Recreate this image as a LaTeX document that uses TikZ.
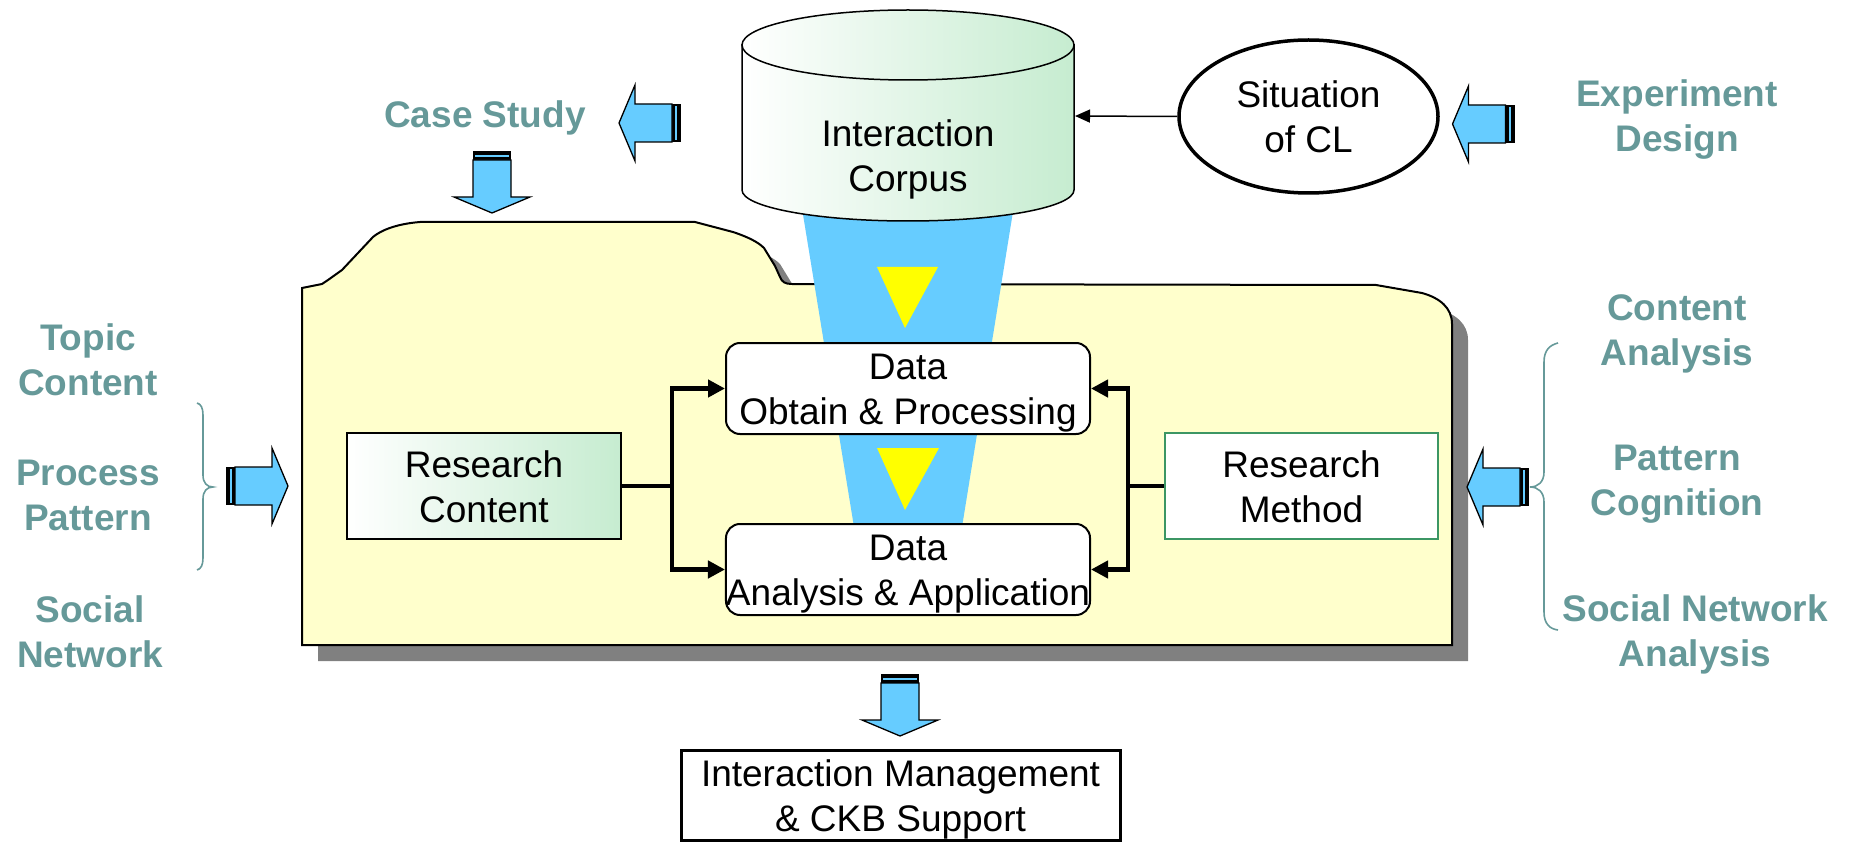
\documentclass[tikz,border=0pt]{standalone}
\usepackage{fontspec}
\setmainfont{Liberation Sans}
\usetikzlibrary{arrows.meta,shapes.geometric}
\definecolor{tealtxt}{RGB}{102,153,153}
\definecolor{foldery}{RGB}{255,255,204}
\definecolor{shadowgray}{RGB}{128,128,128}
\definecolor{arrblue}{RGB}{102,204,255}
\definecolor{triyellow}{RGB}{255,255,0}
\definecolor{cylgreen}{RGB}{198,236,208}
\definecolor{rmgreen}{RGB}{60,150,100}
\newcommand\twol[2]{\begin{tabular}[t]{@{}c@{}}#1\\#2\end{tabular}}
\newcommand\folderpath{(302,645) -- (302,288) -- (322,284) -- (328,280) -- (342,270) -- (373,237) .. controls (380,231) and (395,224) .. (420,222) -- (695,222) -- (733,232) .. controls (748,237) and (758,242) .. (764,248) -- (775,266) -- (780,277) .. controls (782,282) and (785,284) .. (792,284) -- (1376,285) -- (1422,293) .. controls (1440,298) and (1452,308) .. (1452,324) -- (1452,645) -- cycle}
\tikzset{
  txt/.style={font=\fontsize{37}{45}\selectfont, inner sep=0pt},
  lbl/.style={txt, font=\fontsize{37}{45}\selectfont\bfseries, text=tealtxt, anchor=base},
  tx2/.style={text height=31.5pt, text depth=49.5pt},
  rbox/.style={txt, tx2, draw=black, line width=2pt, fill=white, rounded corners=14pt, minimum width=364pt, minimum height=91pt},
  thk/.style={line width=4.5pt, line join=miter},
  tipx/.style={-{Triangle[length=17pt,width=17pt]}},
  brace/.style={draw=tealtxt, line width=1.6pt},
  blkarrow/.pic={
    \fill[black] (-62,-19) rectangle (-53,19);
    \fill[arrblue] (-58,-17) rectangle (-56,17);
    \draw[fill=arrblue, line width=1.3pt, line join=miter] (0,0) -- (-16,-38) -- (-16,-19) -- (-53,-19) -- (-53,19) -- (-16,19) -- (-16,38) -- cycle;
  }
}
\begin{document}
\begin{tikzpicture}[x=1pt,y=-1pt]
\useasboundingbox (0,0) rectangle (1852,842);
% folder with shadow
\fill[shadowgray, shift={(16,16)}] \folderpath;
\draw[fill=foldery, line width=2pt] \folderpath;
% funnel
\fill[arrblue] (799,190) -- (1016.5,190) -- (962,527) -- (854,527) -- cycle;
\fill[triyellow] (877,267) -- (938,267) -- (905,328) -- cycle;
\fill[triyellow] (877,448) -- (939,448) -- (905,510) -- cycle;
% cylinder
\shade[left color=white, right color=cylgreen, draw=black, line width=1.5pt] (742,45) -- (742,190) arc[start angle=180, end angle=360, x radius=166pt, y radius=31pt] -- (1074,45) -- cycle;
\shade[left color=white, right color=cylgreen, draw=black, line width=1.5pt] (908,45) ellipse [x radius=166pt, y radius=35pt];
\node[txt, anchor=base] (corpus) at (908,147) {\twol{Interaction}{Corpus}};
\coordinate (cylR) at (1075,116);
% situation
\node[txt, tx2, draw=black, line width=3.5pt, ellipse, minimum width=259pt, minimum height=153pt] (sit) at (1308.5,116.5) {\twol{Situation}{of CL}};
\draw[line width=1.5pt, -{Triangle[length=15pt,width=13pt]}] (sit.west) -- (cylR);
% labels
\node[lbl] (cs) at (485,128) {Case Study};
\node[lbl] (ed) at (1677,107) {\twol{Experiment}{Design}};
\node[lbl] (tc) at (88,350) {\twol{Topic}{Content}};
\node[lbl] (pp) at (88,485) {\twol{Process}{Pattern}};
\node[lbl] (sn) at (90,622) {\twol{Social}{Network}};
\node[lbl] (ca) at (1677,320) {\twol{Content}{Analysis}};
\node[lbl] (pc) at (1677,470) {\twol{Pattern}{Cognition}};
\node[lbl] (sna) at (1695,621) {\twol{Social Network}{Analysis}};
% braces
\draw[brace] (197,403) .. controls (201,404) and (203,408) .. (203,415) -- (203,475) .. controls (203,483) and (207,487) .. (213,487) .. controls (207,487) and (203,491) .. (203,499) -- (203,558) .. controls (203,565) and (201,569) .. (197,570);
\draw[brace] (1558,343) .. controls (1550,345) and (1544,350) .. (1544,362) -- (1544,472) .. controls (1544,482) and (1538,487) .. (1530,487) .. controls (1538,487) and (1544,492) .. (1544,502) -- (1544,612) .. controls (1544,624) and (1550,629) .. (1558,630);
% block arrows
\pic[rotate=180] at (619,123) {blkarrow};
\pic[rotate=-90] at (492,213) {blkarrow};
\pic[rotate=180] at (1452.5,124) {blkarrow};
\pic at (288,486) {blkarrow};
\pic[rotate=180] at (1467,487) {blkarrow};
\pic[rotate=-90] at (900,736) {blkarrow};
% inner boxes
\node[txt, tx2, draw=black, line width=2pt, left color=white, right color=cylgreen, minimum width=274pt, minimum height=106pt] (rc) at (484,486) {\twol{Research}{Content}};
\node[txt, tx2, draw=rmgreen, line width=2pt, fill=white, minimum width=273pt, minimum height=106pt] (rm) at (1301.5,486) {\twol{Research}{Method}};
\node[rbox] (d1) at (908,388.5) {\twol{Data}{Obtain \& Processing}};
\node[rbox] (d2) at (908,569.5) {\twol{Data}{Analysis \& Application}};
\coordinate (jl) at (672,486);
\coordinate (jr) at (1128,486);
\draw[thk] (rc.east) -- (jl);
\draw[thk, tipx] (jl) |- (d1.west);
\draw[thk, tipx] (jl) |- (d2.west);
\draw[thk] (rm.west) -- (jr);
\draw[thk, tipx] (jr) |- (d1.east);
\draw[thk, tipx] (jr) |- (d2.east);
% bottom box
\node[txt, tx2, draw=black, line width=3pt, fill=white, minimum width=439pt, minimum height=90pt] (im) at (900.5,795.5) {\twol{Interaction Management}{\& CKB Support}};
\end{tikzpicture}
\end{document}
